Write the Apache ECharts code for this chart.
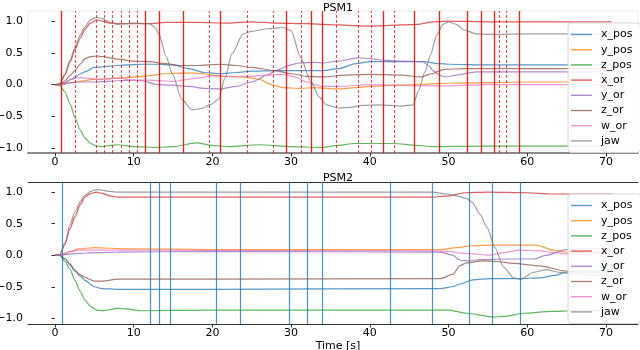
<!DOCTYPE html>
<html>
<head>
<meta charset="utf-8">
<script src="https://cdn.jsdelivr.net/npm/echarts@6/dist/echarts.min.js"></script>
<style>html,body{margin:0;padding:0;background:#fff}#c{width:640px;height:350px}</style>
</head>
<body>
<div id="c"></div>
<script>
// ---------- DATA ----------
const seriesNames = ['x_pos','y_pos','z_pos','x_or','y_or','z_or','w_or','jaw'];
const xTicks = [0,10,20,30,40,50,60,70];
const yTicks = [-1,-0.5,0,0.5,1];

// PSM1 event markers (time, s)
const psm1SolidEvents = [0.76,11.5,13.3,16.3,21.0,29.4,32.5,34.0,41.7,45.7,48.8,52.4,54.1,55.8,59.0];
const psm1DashedEvents = [2.6,5.3,6.2,7.3,8.4,9.4,10.5,19.6,24.4,27.7,31.3,35.7,38.5,40.2,43.1,56.5,57.4];
// PSM2 event markers
const psm2Events = [0.93,12.1,13.3,14.7,20.5,23.6,29.8,32.1,34.0,42.6,47.9,52.6,55.6,59.1];

// PSM1 series [time, value]
const psm1_x_pos = [[0,0],[0.6,0.0],[1.3,0.03],[2,0.08],[2.6,0.12],[3.2,0.17],[3.8,0.2],[5,0.27],[7,0.29],[9,0.31],[11,0.32],[13,0.32],[15,0.31],[17,0.25],[19,0.19],[21,0.17],[23,0.19],[25,0.21],[28,0.22],[31,0.22],[34,0.22],[36,0.25],[38.2,0.33],[40,0.36],[44,0.36],[46.7,0.36],[48.8,0.33],[50,0.32],[55,0.31],[70.7,0.31]];
const psm1_y_pos = [[0,0],[0.6,0.0],[1.3,0.01],[2,0.03],[3,0.05],[5,0.08],[8,0.1],[10,0.12],[12,0.14],[14,0.17],[16,0.18],[18,0.18],[19.5,0.16],[21,0.13],[24,0.12],[26,0.08],[27.5,0.0],[29,-0.05],[31,-0.06],[33,-0.05],[36,-0.07],[38,-0.05],[40,-0.03],[43,-0.01],[46,0.0],[50,0.02],[55,0.03],[60,0.04],[70.7,0.04]];
const psm1_z_pos = [[0,0],[0.6,-0.01],[1.27,-0.12],[1.9,-0.3],[2.54,-0.52],[3.2,-0.72],[3.8,-0.84],[4.5,-0.93],[5.3,-0.97],[6,-0.98],[7,-0.96],[8,-0.95],[10,-0.98],[13,-0.99],[15,-0.98],[18,-0.92],[20,-0.96],[22,-0.98],[26,-0.95],[30,-0.98],[34,-0.99],[36,-0.96],[38,-0.93],[43,-0.93],[46,-0.96],[48,-0.98],[55,-0.97],[70.7,-0.97]];
const psm1_x_or = [[0,0],[0.6,0.01],[1.27,0.15],[1.9,0.35],[2.54,0.55],[3.2,0.73],[3.8,0.87],[4.5,0.97],[5.3,1.02],[6,1.0],[7,0.97],[8,0.96],[10,0.96],[12,0.96],[14,0.98],[18,0.98],[22,0.97],[25,0.99],[28,0.97],[32,0.96],[36,0.94],[40,0.92],[44,0.94],[46,0.95],[48,0.99],[50,1.0],[55,0.99],[60,0.99],[70.7,0.99]];
const psm1_y_or = [[0,0],[0.6,0.0],[1.3,0.01],[2,0.03],[3,0.04],[5,0.04],[8,0.06],[10,0.07],[11,0.06],[13,0.0],[15,-0.01],[17,-0.03],[19,-0.06],[21,-0.07],[23,-0.03],[25,0.04],[27,0.15],[28,0.22],[30,0.31],[31,0.34],[33,0.35],[34,0.34],[36,0.37],[38.5,0.42],[40,0.41],[42,0.38],[44,0.37],[46.7,0.36],[47.5,0.3],[48.1,0.21],[49,0.14],[49.7,0.12],[51,0.15],[53.5,0.2],[60,0.2],[70.7,0.2]];
const psm1_z_or = [[0,0],[0.6,0.0],[1.3,0.06],[1.9,0.14],[2.54,0.22],[3.2,0.32],[3.8,0.41],[4.5,0.44],[5.3,0.45],[6,0.44],[8,0.4],[10,0.37],[12,0.36],[14,0.33],[16,0.3],[18,0.3],[21,0.32],[23,0.3],[25,0.27],[28,0.22],[30,0.17],[32,0.13],[34,0.12],[37,0.15],[40,0.16],[44,0.15],[46.5,0.12],[47.8,0.17],[49.5,0.24],[52,0.25],[60,0.25],[70.7,0.25]];
const psm1_w_or = [[0,0],[0.6,0.0],[1.3,0.03],[2,0.08],[3,0.11],[4,0.1],[5.5,0.08],[8,0.1],[10,0.07],[12,0.07],[15,0.05],[18,0.1],[20,0.14],[22,0.13],[25,0.13],[27,0.15],[29,0.16],[30.5,0.12],[32,0.04],[33,0.0],[34,-0.03],[36,-0.03],[40,0.0],[43,-0.01],[46,-0.02],[50,-0.02],[55,0.0],[70.7,0.0]];
const psm1_jaw = [[0,0],[0.6,0.01],[1.27,0.17],[1.9,0.38],[2.54,0.59],[3.2,0.78],[3.8,0.91],[4.5,1.02],[5.3,1.06],[6,1.04],[7,0.98],[8,0.95],[9,0.96],[10,0.97],[12,0.96],[12.7,0.9],[13.2,0.8],[14.1,0.45],[14.9,0.17],[16.1,-0.23],[17.4,-0.4],[18.5,-0.38],[19.9,-0.31],[20.8,-0.23],[21.6,0.1],[22.5,0.49],[23.9,0.8],[25,0.84],[27,0.88],[29,0.9],[30,0.85],[31.2,0.43],[32.5,0.05],[33.6,-0.2],[34.5,-0.32],[36,-0.37],[37.5,-0.36],[39,-0.33],[41,-0.32],[44,-0.34],[45.5,-0.32],[46.2,-0.1],[47,0.2],[47.7,0.46],[48.5,0.78],[49.3,0.95],[50,0.99],[51,0.95],[52,0.86],[53.5,0.8],[55,0.79],[60,0.8],[70.7,0.8]];

// PSM2 series [time, value]
const psm2_x_pos = [[0,0],[0.6,0.0],[1.3,-0.06],[1.9,-0.15],[2.54,-0.25],[3.2,-0.33],[3.8,-0.4],[5,-0.5],[6,-0.53],[8,-0.54],[20,-0.54],[49,-0.53],[50.5,-0.5],[51.4,-0.46],[53.1,-0.39],[55.3,-0.37],[59.1,-0.37],[61.6,-0.36],[63.5,-0.32],[64.9,-0.27],[67,-0.25],[70.7,-0.25]];
const psm2_y_pos = [[0,0],[0.6,0.0],[1.3,0.03],[2,0.06],[3,0.1],[5,0.12],[7,0.11],[10,0.1],[20,0.09],[49,0.09],[51,0.12],[53,0.15],[55.7,0.16],[61.2,0.16],[63.3,0.08],[65,0.05],[70.7,0.05]];
const psm2_z_pos = [[0,0],[0.6,0.0],[1.27,-0.1],[1.9,-0.22],[2.54,-0.4],[3.2,-0.57],[3.8,-0.71],[4.5,-0.81],[5.3,-0.87],[6,-0.88],[7,-0.86],[8,-0.84],[9,-0.85],[11,-0.88],[20,-0.87],[50,-0.87],[52.3,-0.92],[55.7,-0.98],[57,-0.97],[59.5,-0.92],[63,-0.89],[66,-0.88],[70.7,-0.87]];
const psm2_x_or = [[0,0],[0.6,0.01],[1.27,0.17],[1.9,0.42],[2.54,0.61],[3.2,0.8],[3.8,0.92],[4.5,0.98],[5.3,1.0],[6,0.98],[7,0.94],[8,0.92],[10,0.92],[48,0.92],[50,0.94],[52,0.99],[55,1.0],[60,0.99],[63,0.97],[70.7,0.97]];
const psm2_y_or = [[0,0],[0.6,0.0],[1.3,0.01],[3,0.03],[5,0.04],[8,0.05],[20,0.06],[49,0.05],[50.5,0.0],[51.5,-0.08],[52.5,-0.09],[54,-0.07],[57.4,-0.06],[60.8,-0.06],[62.5,0.0],[64.9,0.09],[67,0.1],[70.7,0.1]];
const psm2_z_or = [[0,0],[0.6,0.0],[1.3,-0.06],[1.9,-0.14],[2.54,-0.24],[3.2,-0.31],[3.8,-0.35],[5,-0.41],[6,-0.41],[8,-0.38],[20,-0.38],[49,-0.37],[50.6,-0.3],[51.4,-0.17],[52.3,-0.12],[54.4,-0.09],[56,-0.1],[58.3,-0.13],[61.6,-0.17],[64.9,-0.25],[67,-0.27],[70.7,-0.27]];
const psm2_w_or = [[0,0],[0.6,0.0],[1.3,0.03],[2,0.06],[3,0.08],[5,0.08],[10,0.08],[48,0.07],[50,0.06],[52,0.03],[55.3,0.0],[57,0.04],[59.1,0.08],[61.6,0.07],[63.5,0.04],[65,0.02],[70.7,0.03]];
const psm2_jaw = [[0,0],[0.6,0.01],[1.27,0.2],[1.9,0.48],[2.54,0.69],[3.2,0.85],[3.8,0.95],[4.5,1.01],[5.3,1.04],[6,1.03],[7,1.01],[8,1.0],[10,1.0],[48,1.0],[49.8,0.97],[51,0.94],[52.3,0.9],[53,0.84],[54,0.65],[54.9,0.44],[55.9,0.12],[57,-0.19],[58.3,-0.36],[59.2,-0.38],[60.8,-0.27],[62.5,-0.23],[64,-0.27],[66,-0.3],[70.7,-0.32]];

// ---------- CHART ----------
const colors = ['#1f77b4','#ff7f0e','#2ca02c','#d62728','#9467bd','#8c564b','#e377c2','#7f7f7f'];
const psm1 = [psm1_x_pos,psm1_y_pos,psm1_z_pos,psm1_x_or,psm1_y_or,psm1_z_or,psm1_w_or,psm1_jaw];
const psm2 = [psm2_x_pos,psm2_y_pos,psm2_z_pos,psm2_x_or,psm2_y_or,psm2_z_or,psm2_w_or,psm2_jaw];
const FONT = 'DejaVu Sans';

function fmtY(v){ return (v < 0 ? '\u2212' : '') + Math.abs(v).toFixed(1); }

function xAxisFor(gi, lineColor, lineWidth){
  return {
    type:'value', gridIndex:gi, min:-3.43, max:74.08,
    axisLine:{show:true, onZero:false, lineStyle:{color:lineColor, width:lineWidth}},
    axisTick:{show:true, length:3.5, lineStyle:{color:'#333'}, customValues:xTicks},
    axisLabel:{show:true, margin:4, color:'#000', fontFamily:FONT, fontSize:11, customValues:xTicks, formatter:v=>String(v)},
    splitLine:{show:false}
  };
}
function yAxisFor(gi, mn, mx){
  return {
    type:'value', gridIndex:gi, min:mn, max:mx,
    axisLine:{show:false},
    axisTick:{show:true, length:3.5, lineStyle:{color:'#333'}, customValues:yTicks},
    axisLabel:{show:true, margin:5, color:'#000', fontFamily:FONT, fontSize:11, customValues:yTicks, formatter:fmtY},
    splitLine:{show:false}
  };
}

const series = [];
function addData(arrs, gi){
  arrs.forEach((d,i)=>{
    series.push({
      name:seriesNames[i], type:'line', xAxisIndex:gi, yAxisIndex:gi,
      data:d, showSymbol:false, symbol:'none', smooth:0.25, smoothMonotone:'x',
      lineStyle:{color:colors[i], width:1.2, opacity:0.75}, itemStyle:{color:colors[i], opacity:0.75},
      z:2, animation:false
    });
  });
}
addData(psm1,0);
addData(psm2,1);

function eventSeries(gi, events, style){
  series.push({
    name:'', type:'line', xAxisIndex:gi, yAxisIndex:gi, data:[], z:3, animation:false,
    markLine:{silent:true, symbol:['none','none'], label:{show:false}, animation:false,
      lineStyle:style, data:events.map(v=>({xAxis:v}))}
  });
}
eventSeries(0, psm1SolidEvents, {color:'#ff0000', width:1.3, type:'solid', opacity:0.9});
eventSeries(0, psm1DashedEvents, {color:'#ff0000', width:1, type:[3,2], opacity:0.75});
eventSeries(1, psm2Events, {color:'#1f77b4', width:1.2, type:'solid', opacity:0.8});

function legendAt(top){
  return {
    data:seriesNames, orient:'vertical', left:568, top:top,
    itemWidth:21, itemHeight:10, itemGap:2.2,
    icon:'path://M0,4.3 L21,4.3 L21,5.7 L0,5.7 Z',
    backgroundColor:'rgba(255,255,255,0.85)', borderColor:'#d6d6d6', borderWidth:1, borderRadius:3,
    padding:[5,8,5,3],
    textStyle:{fontFamily:FONT, fontSize:11, color:'#000', lineHeight:13, padding:[0,0,0,4]},
    selectedMode:false
  };
}

const option = {
  animation:false,
  backgroundColor:'#fff',
  color:colors,
  title:[
    {text:'PSM1', left:333, top:-2, textAlign:'center', textStyle:{fontFamily:FONT, fontSize:11, fontWeight:'normal', color:'#000'}},
    {text:'PSM2', left:333, top:168, textAlign:'center', textStyle:{fontFamily:FONT, fontSize:11, fontWeight:'normal', color:'#000'}},
    {text:'Time [s]', left:333, top:336, textAlign:'center', textStyle:{fontFamily:FONT, fontSize:11, fontWeight:'normal', color:'#000'}}
  ],
  grid:[
    {left:28, top:11, width:610, height:142, show:true, borderColor:'#ececec', borderWidth:1, containLabel:false, outerBoundsMode:'none'},
    {left:28, top:182, width:610, height:142, show:false, containLabel:false, outerBoundsMode:'none'}
  ],
  legend:[legendAt(23), legendAt(194)],
  xAxis:[
    xAxisFor(0,'#8a8a8a',2),
    xAxisFor(1,'#333',1),
    {type:'value', gridIndex:1, position:'top', min:-3.43, max:74.08,
     axisLine:{show:true, onZero:false, lineStyle:{color:'#333', width:1}}, axisTick:{show:false}, axisLabel:{show:false}, splitLine:{show:false}}
  ],
  yAxis:[yAxisFor(0,-1.08,1.16), yAxisFor(1,-1.09,1.16)],
  series:series
};

const chart = echarts.init(document.getElementById('c'), null, {renderer:'canvas'});
chart.setOption(option);
</script>
</body>
</html>
